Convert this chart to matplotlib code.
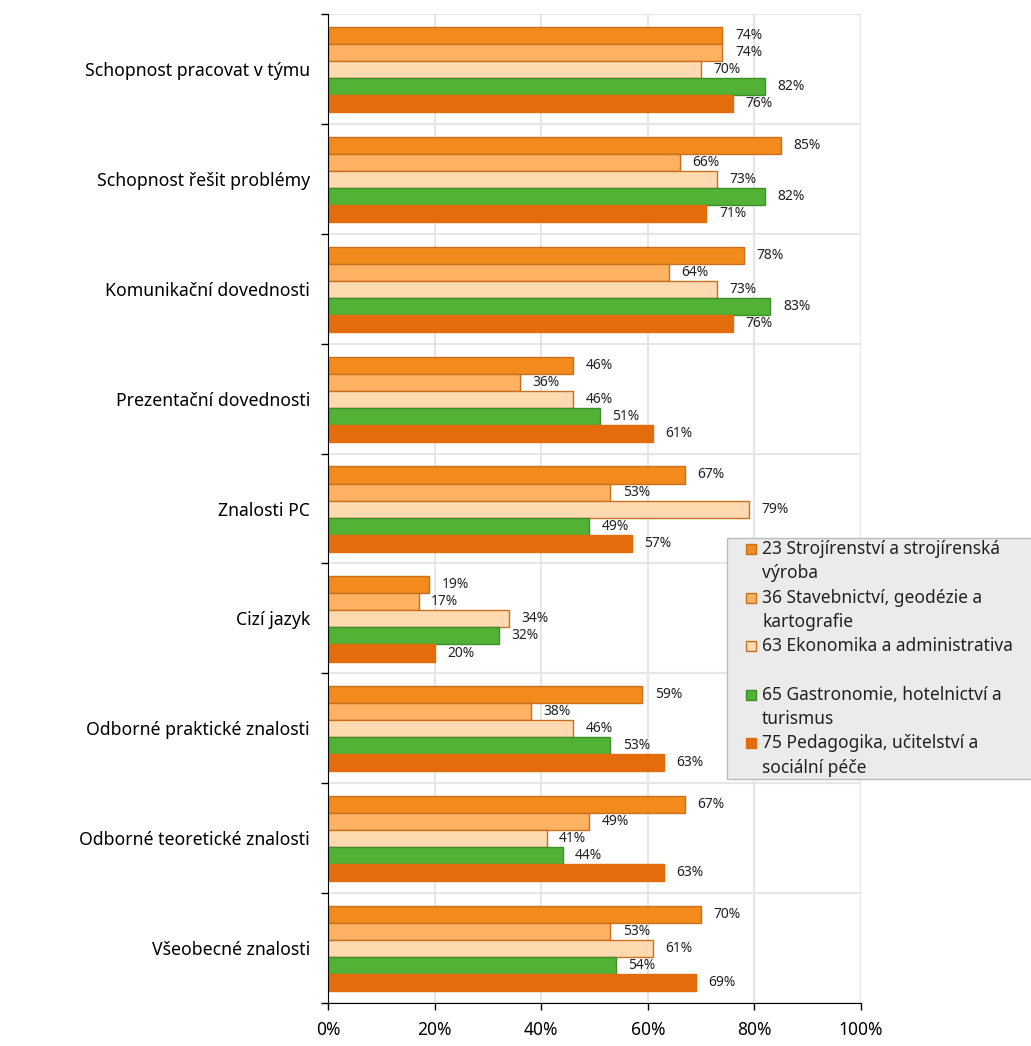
import matplotlib
matplotlib.use("Agg")
import matplotlib.pyplot as plt
from matplotlib.patches import Rectangle
import numpy as np

plt.rcParams['font.family'] = ['Noto Sans', 'DejaVu Sans']

categories = [
    "Schopnost pracovat v týmu",
    "Schopnost řešit problémy",
    "Komunikační dovednosti",
    "Prezentační dovednosti",
    "Znalosti PC",
    "Cizí jazyk",
    "Odborné praktické znalosti",
    "Odborné teoretické znalosti",
    "Všeobecné znalosti",
]

series_names = [
    "23 Strojírenství a strojírenská\nvýroba",
    "36 Stavebnictví, geodézie a\nkartografie",
    "63 Ekonomika a administrativa\n",
    "65 Gastronomie, hotelnictví a\nturismus",
    "75 Pedagogika, učitelství a\nsociální péče",
]

s23 = [74, 85, 78, 46, 67, 19, 59, 67, 70]
s36 = [74, 66, 64, 36, 53, 17, 38, 49, 53]
s63 = [70, 73, 73, 46, 79, 34, 46, 41, 61]
s65 = [82, 82, 83, 51, 49, 32, 53, 44, 54]
s75 = [76, 71, 76, 61, 57, 20, 63, 63, 69]
series = [s23, s36, s63, s65, s75]

colors = ['#F28B1B', '#FFB262', '#FFDAB1', '#52B236', '#E46C0A']
edges = ['#C8701E', '#C8701E', '#C8701E', '#3E8E2A', '#E46C0A']

xticks = [0, 20, 40, 60, 80, 100]

fig = plt.figure(figsize=(10.31, 10.46), dpi=100)
ax = fig.add_axes([328/1031, 1 - 1003/1046, (861-328)/1031, (1003-14)/1046])

y = np.arange(len(categories))
h = 0.155
for i, vals in enumerate(series):
    pos = y + (i - 2) * h + 0.005
    ax.barh(pos, vals, height=h, color=colors[i], edgecolor=edges[i], linewidth=1)
    for yy, v in zip(pos, vals):
        ax.annotate(f"{v}%", (v, yy), xytext=(9, 0), textcoords='offset points',
                    ha='left', va='center', fontsize=10, color='#222222')

ax.set_xlim(0, 100)
ax.set_ylim(len(categories) - 0.5, -0.5)

# grid
for b in np.arange(-0.5, len(categories), 1.0):
    ax.axhline(b, color='#E6E6E6', lw=1.5, zorder=0)
for xv in xticks[1:]:
    ax.axvline(xv, color='#E6E6E6', lw=1.5, zorder=0)

ax.set_xticks(xticks)
ax.set_xticklabels([f"{t}%" for t in xticks], fontsize=12.5)
ax.tick_params(axis='x', length=5, width=1, pad=8, color='black')

ax.set_yticks(y)
ax.set_yticklabels(categories, fontsize=12.7)
ax.tick_params(axis='y', length=0, pad=13)
ax.set_yticks(np.arange(-0.5, len(categories), 1.0), minor=True)
ax.tick_params(axis='y', which='minor', length=5, width=1, color='black')

for s in ['top', 'right']:
    ax.spines[s].set_visible(False)
ax.spines['left'].set_color('black')
ax.spines['bottom'].set_color('black')

# legend drawn by hand
W, H = 1031, 1046
fig.patches.append(Rectangle((727/W, 1 - 779/H), 310/W, (779-538)/H, transform=fig.transFigure,
                             facecolor='#EBEBEB', edgecolor='#BBBBBB', lw=1))
line_h = 24.3
first = 549
row = 0
for i, name in enumerate(series_names):
    yc = first + row * line_h
    fig.patches.append(Rectangle((746/W, 1 - (yc + 5)/H), 10/W, 10/H, transform=fig.transFigure,
                                 facecolor=colors[i], edgecolor=edges[i], lw=1))
    lines = name.split("\n")
    for k, ln in enumerate(lines):
        fig.text(762/W, 1 - (yc + k*line_h)/H, ln, fontsize=12.5, va='center', ha='left', color='#222222')
    row += len(lines)

fig.savefig("out.png", dpi=100)
